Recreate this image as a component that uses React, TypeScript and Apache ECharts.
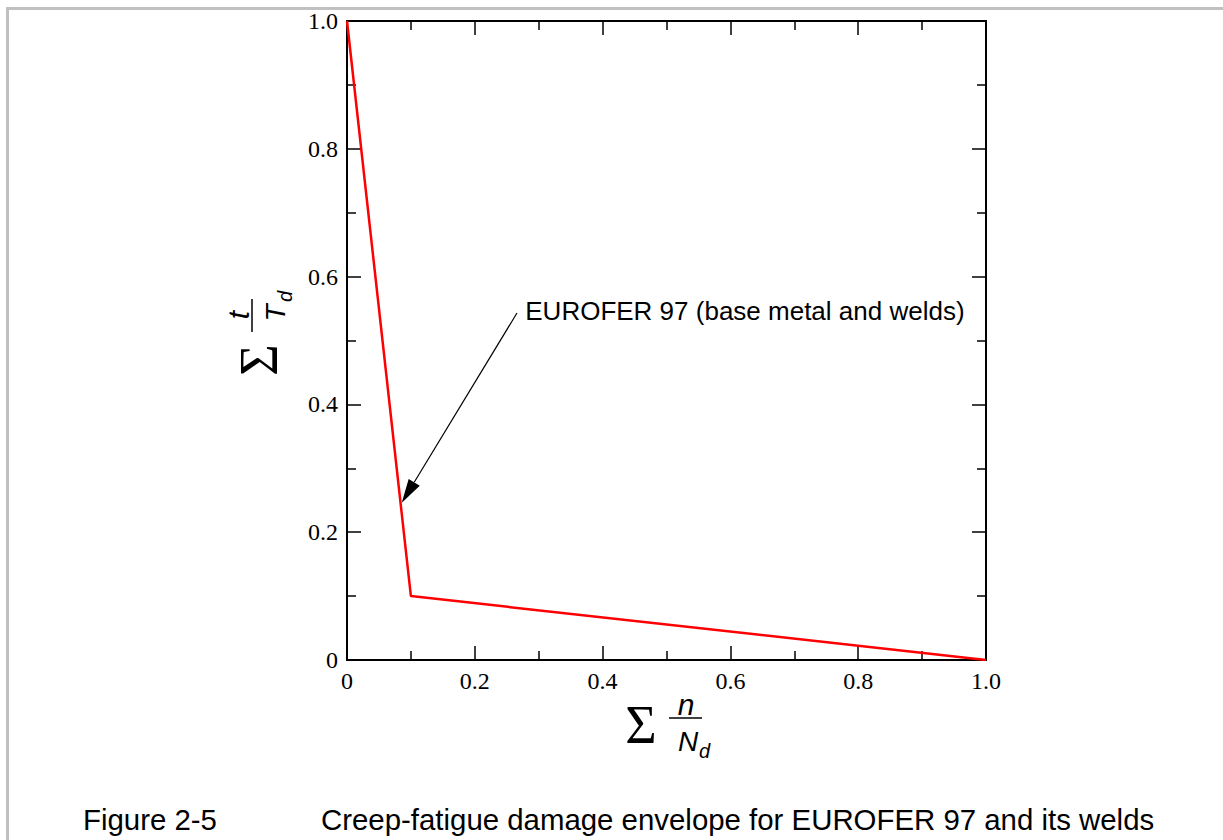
import React, { useEffect, useRef } from "react";
import * as echarts from "echarts";

// Envelope points: [sum n/Nd, sum t/Td]
const envelopeX = [0, 0.1, 1.0];
const envelopeY = [1.0, 0.1, 0];
const annotationText = "EUROFER 97 (base metal and welds)";
// annotation arrow in data coordinates: tail -> tip
const arrowTail = [0.266, 0.543];
const arrowTip = [0.0857, 0.246];
const annotationAnchor = [0.279, 0.546];
const captionLabel = "Figure 2-5";
const captionText = "Creep-fatigue damage envelope for EUROFER 97 and its welds";

const SERIF = "'Liberation Serif', 'Times New Roman', serif";
const SANS = "'Liberation Sans', Arial, sans-serif";

function fmt(v: number) {
  if (Math.abs(v) < 1e-9) return "0";
  return v.toFixed(1);
}

function fractionTitle(x: number, y: number, rotation: number, num: string, den: string) {
  return {
    type: "group",
    x,
    y,
    rotation,
    children: [
      {
        type: "text",
        x: 0,
        y: 0,
        style: { text: "\u03A3", font: `54px ${SERIF}`, fill: "#000", align: "center", verticalAlign: "middle" },
      },
      {
        type: "line",
        shape: { x1: 28, y1: -7, x2: 61, y2: -7 },
        style: { stroke: "#000", lineWidth: 1.5 },
      },
      {
        type: "text",
        x: 45,
        y: -21,
        style: { text: num, font: `italic 30px ${SANS}`, fill: "#000", align: "center", verticalAlign: "middle" },
      },
      {
        type: "text",
        x: 47,
        y: 16,
        style: { text: den, font: `italic 28px ${SANS}`, fill: "#000", align: "center", verticalAlign: "middle" },
      },
      {
        type: "text",
        x: 58,
        y: 26,
        style: { text: "d", font: `italic 20px ${SANS}`, fill: "#000", align: "left", verticalAlign: "middle" },
      },
    ],
  };
}

export default function App() {
  const ref = useRef<HTMLDivElement>(null);
  useEffect(() => {
    if (!ref.current) return;
    const chart = echarts.init(ref.current, undefined, { renderer: "svg" });
    const data = envelopeX.map((x, i) => [x, envelopeY[i]]);
    const axisCommon = {
      type: "value",
      min: 0,
      max: 1,
      interval: 0.2,
      axisLine: { show: true, onZero: false, lineStyle: { color: "#000", width: 2 } },
      axisTick: { show: true, inside: true, length: 14, lineStyle: { color: "#000", width: 1.5 } },
      minorTick: { show: true, splitNumber: 2, length: 9, lineStyle: { color: "#000", width: 1.5 } },
      splitLine: { show: false },
      minorSplitLine: { show: false },
    };
    const labelStyle = { color: "#000", fontFamily: SERIF, fontSize: 24, margin: 9, formatter: (v: number) => fmt(v) };
    chart.setOption({
      animation: false,
      backgroundColor: "#fff",
      grid: { left: 347, top: 21, width: 639, height: 639, containLabel: false },
      xAxis: [
        { ...axisCommon, position: "bottom", axisLabel: { ...labelStyle, showMinLabel: true, showMaxLabel: true } },
        { ...axisCommon, position: "top", axisLabel: { show: false } },
      ],
      yAxis: [
        { ...axisCommon, position: "left", axisLabel: { ...labelStyle, showMinLabel: true, showMaxLabel: true } },
        { ...axisCommon, position: "right", axisLabel: { show: false } },
      ],
      series: [
        {
          type: "line",
          data,
          xAxisIndex: 0,
          yAxisIndex: 0,
          showSymbol: false,
          symbol: "none",
          lineStyle: { color: "#ff0000", width: 2.5 },
          z: 1,
        },
      ],
    });

    const tail = chart.convertToPixel({ gridIndex: 0 }, arrowTail) as number[];
    const tip = chart.convertToPixel({ gridIndex: 0 }, arrowTip) as number[];
    const anchor = chart.convertToPixel({ gridIndex: 0 }, annotationAnchor) as number[];
    const dx = tail[0] - tip[0];
    const dy = tail[1] - tip[1];
    const len = Math.sqrt(dx * dx + dy * dy);
    const ux = dx / len;
    const uy = dy / len;
    const headLen = 24;
    const headHalf = 6.5;
    const bx = tip[0] + ux * headLen;
    const by = tip[1] + uy * headLen;
    const p1 = [bx - uy * headHalf, by + ux * headHalf];
    const p2 = [bx + uy * headHalf, by - ux * headHalf];

    chart.setOption({
      graphic: [
        {
          type: "rect",
          shape: { x: 7.5, y: 8.5, width: 1400, height: 1000 },
          style: { fill: "none", stroke: "#c0c0c0", lineWidth: 3 },
          silent: true,
        },
        {
          type: "line",
          shape: { x1: tail[0], y1: tail[1], x2: bx, y2: by },
          style: { stroke: "#000", lineWidth: 1.2 },
        },
        {
          type: "polygon",
          shape: { points: [tip, p1, p2] },
          style: { fill: "#000" },
        },
        {
          type: "text",
          x: anchor[0],
          y: anchor[1],
          style: { text: annotationText, font: `26px ${SANS}`, fill: "#000", align: "left", verticalAlign: "middle" },
        },
        fractionTitle(641, 725, 0, "n", "N"),
        fractionTitle(259, 360, Math.PI / 2, "t", "T"),
        {
          type: "text",
          x: 83,
          y: 819,
          style: { text: captionLabel, font: `29.4px ${SANS}`, fill: "#000", align: "left", verticalAlign: "middle" },
        },
        {
          type: "text",
          x: 321,
          y: 819,
          style: { text: captionText, font: `29.4px ${SANS}`, fill: "#000", align: "left", verticalAlign: "middle" },
        },
      ],
    });
    return () => chart.dispose();
  }, []);
  return (
    <div
      ref={ref}
      style={{ position: "absolute", left: 0, top: 0, width: 1223, height: 840, background: "#fff" }}
    />
  );
}
